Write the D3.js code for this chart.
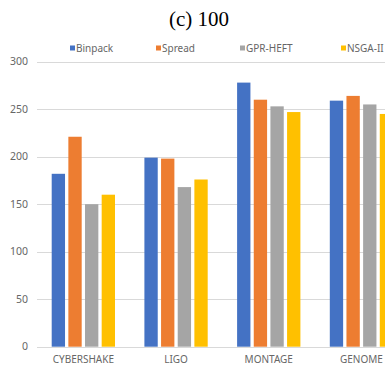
<!DOCTYPE html>
<html lang="en">
<head>
  <meta charset="utf-8">
  <script src="https://d3js.org/d3.v7.min.js"></script>
  <style>
    body { margin: 0; background: #fff; }
    text { font-family: "Noto Sans", "DejaVu Sans", sans-serif; }
  </style>
</head>
<body>
  <div id="chart"></div>
  <script>
    // data
    var categories = ["CYBERSHAKE", "LIGO", "MONTAGE", "GENOME"];
    var seriesNames = ["Binpack", "Spread", "GPR-HEFT", "NSGA-II"];
    var binpack = [182, 199, 278, 259];
    var spread = [221, 198, 260, 264];
    var gprHeft = [150, 168, 253, 255];
    var nsga2 = [160, 176, 247, 245];
    var yTicks = [0, 50, 100, 150, 200, 250, 300];

    var seriesValues = [binpack, spread, gprHeft, nsga2];
    var colors = ["#4472C4", "#ED7D31", "#A5A5A5", "#FFC000"];

    var width = 385;
    var height = 367;

    var svg = d3.select('#chart')
      .append('svg')
      .attr('width', width)
      .attr('height', height);

    // plot area (runs off the right edge like the original)
    var plotLeft = 37, step = 92.7;
    var plotTop = 61.7, plotBottom = 346.7;

    var x0 = d3.scaleBand()
      .domain(categories)
      .range([plotLeft, plotLeft + step * categories.length]);

    var x1 = d3.scaleBand()
      .domain(seriesNames)
      .range([14.7, step - 14.7])
      .paddingInner(0.2);

    var y = d3.scaleLinear()
      .domain([0, 300])
      .range([plotBottom, plotTop]);

    // title
    svg.append('text')
      .attr('x', 199)
      .attr('y', 26)
      .attr('text-anchor', 'middle')
      .style('font-family', '"Liberation Serif", "Times New Roman", serif')
      .style('font-size', '21px')
      .style('fill', '#000')
      .text('(c) 100');

    // grid lines
    svg.append('g')
      .selectAll('line')
      .data(yTicks)
      .enter()
      .append('line')
      .attr('x1', plotLeft)
      .attr('x2', width)
      .attr('y1', function (d) { return Math.round(y(d)) + 0.5; })
      .attr('y2', function (d) { return Math.round(y(d)) + 0.5; })
      .style('stroke', '#d9d9d9')
      .style('stroke-width', 1);

    // y tick labels
    svg.append('g')
      .selectAll('text')
      .data(yTicks)
      .enter()
      .append('text')
      .attr('x', 28)
      .attr('y', function (d) { return y(d); })
      .attr('dy', '0.35em')
      .attr('text-anchor', 'end')
      .style('font-size', '10.5px')
      .style('fill', '#666')
      .text(function (d) { return d; });

    // bars
    var groups = svg.append('g')
      .selectAll('g')
      .data(categories)
      .enter()
      .append('g')
      .attr('transform', function (d) { return 'translate(' + x0(d) + ',0)'; });

    groups.selectAll('rect')
      .data(function (c, ci) {
        return seriesNames.map(function (s, si) {
          return { series: s, index: si, value: seriesValues[si][ci] };
        });
      })
      .enter()
      .append('rect')
      .attr('x', function (d) { return x1(d.series); })
      .attr('width', x1.bandwidth())
      .attr('y', function (d) { return y(d.value); })
      .attr('height', function (d) { return y(0) - y(d.value); })
      .style('fill', function (d) { return colors[d.index]; });

    // category labels
    svg.append('g')
      .selectAll('text')
      .data(categories)
      .enter()
      .append('text')
      .attr('x', function (d) { return x0(d) + x0.bandwidth() / 2; })
      .attr('y', 363)
      .attr('text-anchor', 'middle')
      .style('font-size', '10px')
      .style('fill', '#666')
      .text(function (d) { return d; });

    // legend
    var legendX = [70, 156, 240, 341];
    var legend = svg.append('g')
      .selectAll('g')
      .data(seriesNames)
      .enter()
      .append('g')
      .attr('transform', function (d, i) { return 'translate(' + legendX[i] + ',48)'; });

    legend.append('rect')
      .attr('x', 0)
      .attr('y', -2.5)
      .attr('width', 5)
      .attr('height', 5)
      .style('fill', function (d, i) { return colors[i]; });

    legend.append('text')
      .attr('x', 6)
      .attr('y', 0)
      .attr('dy', '0.35em')
      .style('font-size', '10px')
      .style('fill', '#666')
      .text(function (d) { return d; });
  </script>
</body>
</html>
